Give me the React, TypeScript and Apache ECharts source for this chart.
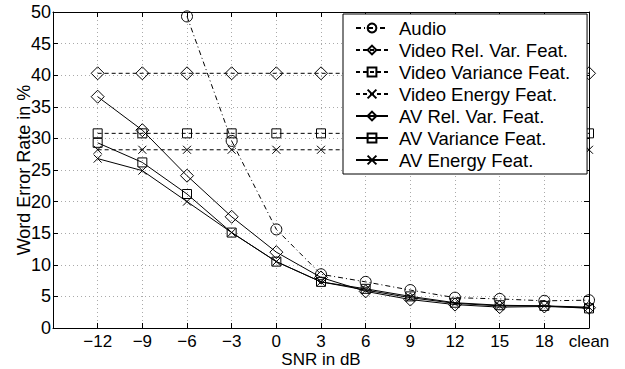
import React, { useEffect, useRef } from "react";
import * as echarts from "echarts";

const snrLabels = ["\u221212", "\u22129", "\u22126", "\u22123", "0", "3", "6", "9", "12", "15", "18", "clean"];
const yTicks = [0, 5, 10, 15, 20, 25, 30, 35, 40, 45, 50];

const audio = [null, null, 49.3, 29.6, 15.6, 8.5, 7.3, 6.0, 4.8, 4.6, 4.3, 4.4];
const videoRelVar = [40.3, 40.3, 40.3, 40.3, 40.3, 40.3, 40.3, 40.3, 40.3, 40.3, 40.3, 40.3];
const videoVariance = [30.8, 30.8, 30.8, 30.8, 30.8, 30.8, 30.8, 30.8, 30.8, 30.8, 30.8, 30.8];
const videoEnergy = [28.2, 28.2, 28.2, 28.2, 28.2, 28.2, 28.2, 28.2, 28.2, 28.2, 28.2, 28.2];
const avRelVar = [36.6, 31.3, 24.1, 17.6, 12.0, 8.0, 5.8, 4.5, 3.7, 3.3, 3.4, 3.2];
const avVariance = [29.3, 26.2, 21.2, 15.1, 10.5, 7.3, 6.2, 5.0, 4.0, 3.6, 3.5, 3.1];
const avEnergy = [26.8, 24.9, 20.0, 15.1, 10.5, 7.3, 6.0, 4.8, 3.9, 3.5, 3.5, 3.3];

const FONT = "'Liberation Sans', Arial, Helvetica, sans-serif";
const CROSS = "path://M0,0L10,10M10,0L0,10";

export default function App() {
  const ref = useRef<HTMLDivElement>(null);
  useEffect(() => {
    if (!ref.current) return;
    const chart = echarts.init(ref.current, null, { renderer: "svg" });
    const toPairs = (arr: (number | null)[]) => arr.map((v, i) => [i, v]);
    const mk = (
      name: string,
      arr: (number | null)[],
      symbol: string,
      size: number,
      dash: any
    ) => ({
      name,
      type: "line",
      data: toPairs(arr),
      symbol,
      symbolSize: size,
      showSymbol: true,
      clip: false,
      connectNulls: false,
      lineStyle: { color: "#000", width: 1, type: dash },
      itemStyle: { color: "rgba(0,0,0,0)", borderColor: "#000", borderWidth: 1 },
      emphasis: { disabled: true },
      z: 3,
    });
    const DASH = [4, 3];
    const DASHDOT = [5, 3, 1, 3];
    const commonX = {
      type: "value",
      min: -1,
      max: 11,
      interval: 1,
    };
    chart.setOption({
      animation: false,
      textStyle: { fontFamily: FONT },
      grid: {
        left: 53,
        right: 36,
        top: 12,
        bottom: 41,
        containLabel: false,
        outerBoundsMode: "none",
        show: false,
      },
      legend: {
        left: 343,
        top: 14,
        orient: "vertical",
        selectedMode: false,
        backgroundColor: "#fff",
        borderColor: "#000",
        borderWidth: 1,
        padding: [4, 17, 4, 12],
        itemWidth: 32,
        itemHeight: 11,
        itemGap: 2,
        textStyle: { fontFamily: FONT, fontSize: 18.5, color: "#000", lineHeight: 20, padding: [0, 0, 0, 6] },
        data: [
          "Audio",
          "Video Rel. Var. Feat.",
          "Video Variance Feat.",
          "Video Energy Feat.",
          "AV Rel. Var. Feat.",
          "AV Variance Feat.",
          "AV Energy Feat.",
        ],
        z: 10,
      },
      xAxis: [
        {
          ...commonX,
          position: "bottom",
          name: "SNR in dB",
          nameLocation: "middle",
          nameGap: 24.5,
          nameMoveOverlap: false,
          nameTextStyle: { fontFamily: FONT, fontSize: 17, color: "#000", lineHeight: 14 },
          axisLine: { show: true, onZero: false, lineStyle: { color: "#000", width: 1 } },
          axisTick: { show: true, inside: true, length: 5, lineStyle: { color: "#000" } },
          axisLabel: {
            fontFamily: FONT,
            fontSize: 17,
            lineHeight: 14,
            color: "#000",
            margin: 6,
            formatter: (v: number) => (v >= 0 && v < snrLabels.length ? snrLabels[v] : ""),
          },
          splitLine: { show: true, lineStyle: { color: "#aaa", type: [1, 3], width: 1 } },
        },
        {
          ...commonX,
          position: "top",
          axisLine: { show: true, onZero: false, lineStyle: { color: "#000", width: 1 } },
          axisTick: { show: true, inside: true, length: 5, lineStyle: { color: "#000" } },
          axisLabel: { show: false },
          splitLine: { show: false },
        },
      ],
      yAxis: [
        {
          type: "value",
          min: yTicks[0],
          max: yTicks[yTicks.length - 1],
          interval: 5,
          position: "left",
          name: "Word Error Rate in %",
          nameLocation: "middle",
          nameGap: 20,
          nameMoveOverlap: false,
          nameTextStyle: { fontFamily: FONT, fontSize: 18, color: "#000", lineHeight: 18 },
          axisLine: { show: true, onZero: false, lineStyle: { color: "#000", width: 1 } },
          axisTick: { show: true, inside: true, length: 5, lineStyle: { color: "#000" } },
          axisLabel: { fontFamily: FONT, fontSize: 18, color: "#000", margin: 2 },
          splitLine: { show: true, lineStyle: { color: "#aaa", type: [1, 3], width: 1 } },
        },
        {
          type: "value",
          min: yTicks[0],
          max: yTicks[yTicks.length - 1],
          interval: 5,
          position: "right",
          axisLine: { show: true, onZero: false, lineStyle: { color: "#000", width: 1 } },
          axisTick: { show: true, inside: true, length: 5, lineStyle: { color: "#000" } },
          axisLabel: { show: false },
          splitLine: { show: false },
        },
      ],
      series: [
        mk("Audio", audio, "circle", 11, DASHDOT),
        mk("Video Rel. Var. Feat.", videoRelVar, "diamond", 13, DASH),
        mk("Video Variance Feat.", videoVariance, "rect", 9, DASH),
        mk("Video Energy Feat.", videoEnergy, CROSS, 8, DASH),
        mk("AV Rel. Var. Feat.", avRelVar, "diamond", 13, "solid"),
        mk("AV Variance Feat.", avVariance, "rect", 9, "solid"),
        mk("AV Energy Feat.", avEnergy, CROSS, 8, "solid"),
      ],
    });
    return () => chart.dispose();
  }, []);
  return (
    <div
      ref={ref}
      style={{ position: "absolute", left: 0, top: 0, width: 625, height: 369, background: "#fff" }}
    />
  );
}
